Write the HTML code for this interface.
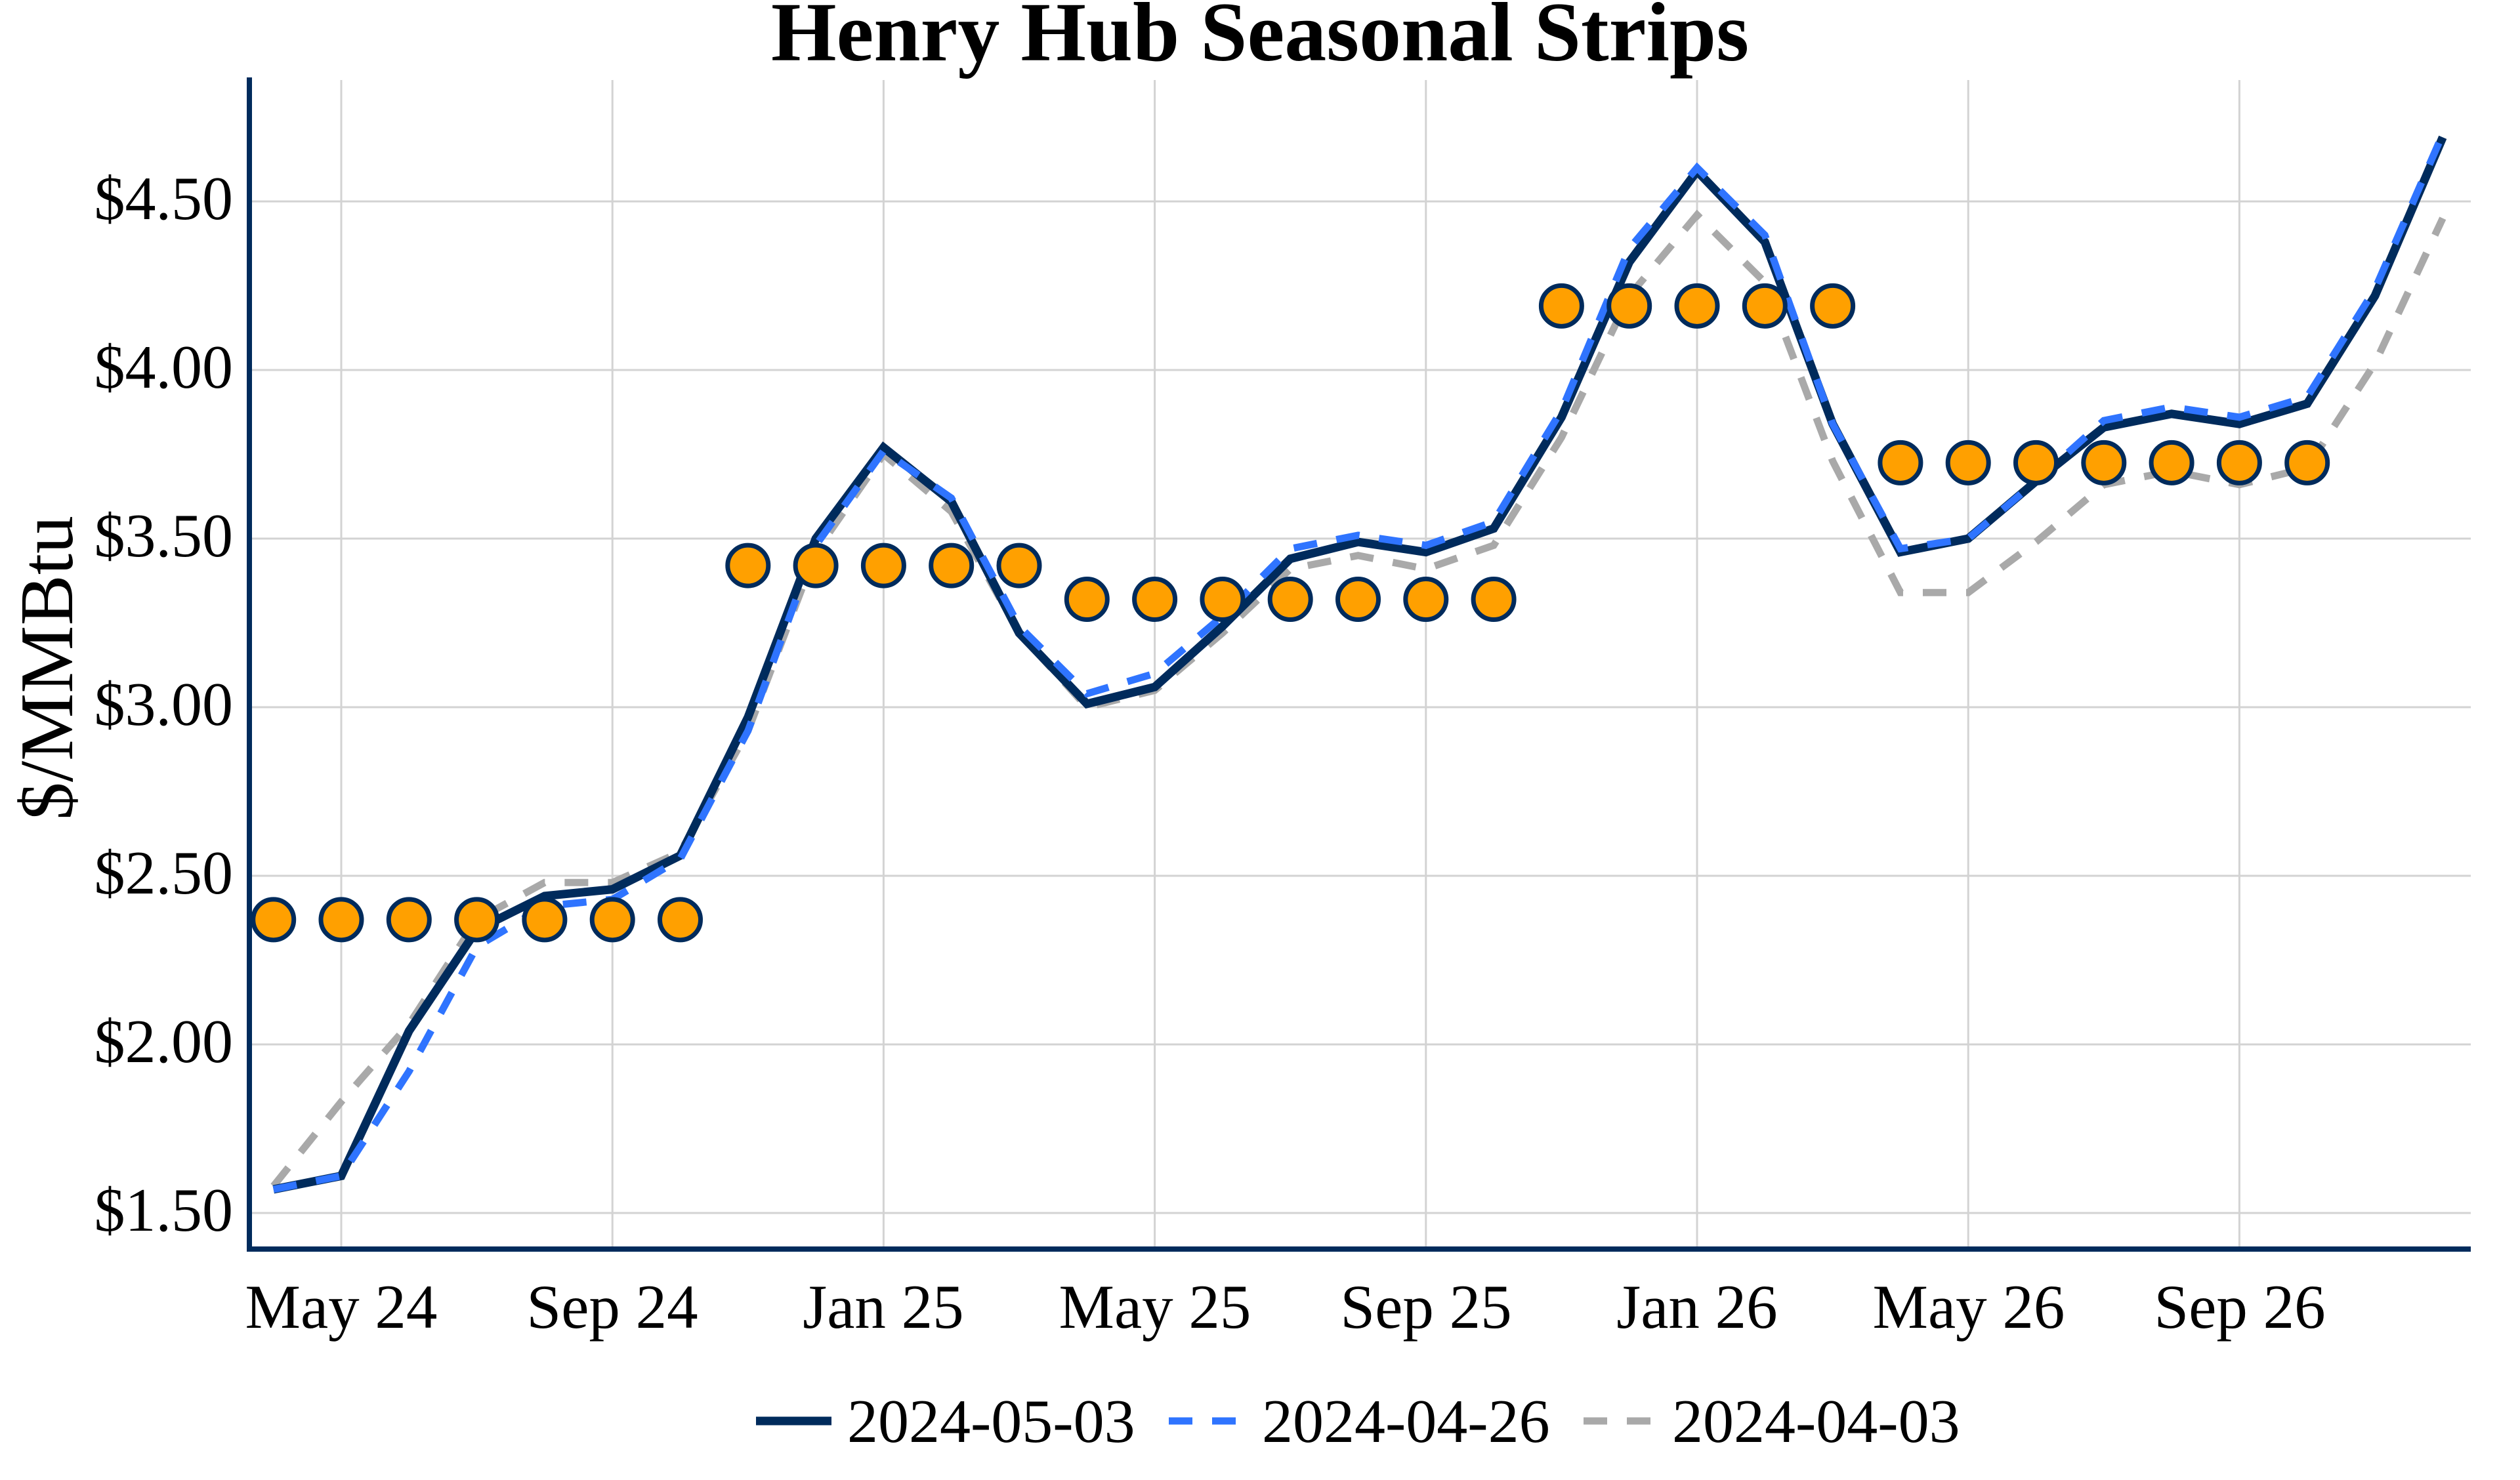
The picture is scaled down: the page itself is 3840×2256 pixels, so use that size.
<!DOCTYPE html>
<html><head><meta charset="utf-8"><style>
html,body{margin:0;padding:0;background:#fff;}
svg{display:block;font-family:"Liberation Serif",serif;}
</style></head><body>
<svg id="s" width="3840" height="2256" viewBox="0 0 3840 2256" xmlns="http://www.w3.org/2000/svg">
<rect width="3840" height="2256" fill="#fff"/>
<g id="grid" stroke="#d3d3d3" stroke-width="3"></g>
<g id="lines" fill="none" stroke-linejoin="miter"></g>
<g id="dots"></g>
<line x1="380" y1="118" x2="380" y2="1908" stroke="#002b5c" stroke-width="8"/>
<line x1="376" y1="1904" x2="3765" y2="1904" stroke="#002b5c" stroke-width="8"/>
<text x="1920" y="92" font-size="128" font-weight="bold" text-anchor="middle">Henry Hub Seasonal Strips</text>
<g font-size="94" text-anchor="end">
<text x="355" y="1876">$1.50</text>
<text x="355" y="1619">$2.00</text>
<text x="355" y="1362">$2.50</text>
<text x="355" y="1105">$3.00</text>
<text x="355" y="848">$3.50</text>
<text x="355" y="591">$4.00</text>
<text x="355" y="334">$4.50</text>
</g>
<g font-size="95" text-anchor="middle">
<text x="520" y="2024">May 24</text>
<text x="933" y="2024">Sep 24</text>
<text x="1346" y="2024">Jan 25</text>
<text x="1760" y="2024">May 25</text>
<text x="2173" y="2024">Sep 25</text>
<text x="2586" y="2024">Jan 26</text>
<text x="3000" y="2024">May 26</text>
<text x="3413" y="2024">Sep 26</text>
</g>
<text transform="translate(110,1018) rotate(-90)" font-size="116" text-anchor="middle">$/MMBtu</text>
<g font-size="94">
<line x1="1152" y1="2166" x2="1267" y2="2166" stroke="#002b5c" stroke-width="13"/>
<text x="1291" y="2198">2024-05-03</text>
<line x1="1781" y1="2166" x2="1899" y2="2166" stroke="#2f74ff" stroke-width="11" stroke-dasharray="36,30"/>
<text x="1923" y="2198">2024-04-26</text>
<line x1="2413" y1="2166" x2="2524" y2="2166" stroke="#a9a9a9" stroke-width="11" stroke-dasharray="36,30"/>
<text x="2548" y="2198">2024-04-03</text>
</g>
</svg>
<script>
(function(){
var NS="http://www.w3.org/2000/svg";
function X(m){return 520+m*103.3;}
function Y(v){return 1849-(v-1.5)*514;}
var g=document.getElementById('grid');
function el(p,tag,a){var e=document.createElementNS(NS,tag);for(var k in a)e.setAttribute(k,a[k]);p.appendChild(e);return e;}
for(var i=0;i<7;i++){var y=Y(1.5+i*0.5);el(g,'line',{x1:384,y1:y,x2:3765,y2:y});}
for(var m=0;m<=28;m+=4){el(g,'line',{x1:X(m),y1:122,x2:X(m),y2:1900});}
var dark=[1.57,1.61,2.04,2.34,2.44,2.46,2.56,2.97,3.50,3.77,3.61,3.22,3.01,3.06,3.24,3.44,3.49,3.46,3.53,3.86,4.32,4.59,4.38,3.84,3.46,3.50,3.67,3.83,3.87,3.84,3.90,4.22,4.69];
var blue=[1.57,1.61,1.92,2.29,2.41,2.43,2.55,2.93,3.48,3.76,3.62,3.24,3.04,3.10,3.27,3.47,3.51,3.48,3.55,3.88,4.36,4.60,4.40,3.84,3.47,3.50,3.67,3.85,3.89,3.86,3.92,4.24,4.70];
var gray=[1.58,1.83,2.06,2.37,2.48,2.48,2.57,2.93,3.46,3.75,3.58,3.22,3.00,3.05,3.22,3.41,3.45,3.41,3.48,3.80,4.22,4.46,4.26,3.73,3.34,3.34,3.49,3.66,3.70,3.66,3.71,4.02,4.45];
function pts(a){return a.map(function(v,i){return X(i-1).toFixed(1)+','+Y(v).toFixed(1);}).join(' ');}
var L=document.getElementById('lines');
el(L,'polyline',{points:pts(gray),stroke:'#a9a9a9','stroke-width':11,'stroke-dasharray':'36,30'});
el(L,'polyline',{points:pts(dark),stroke:'#002b5c','stroke-width':13});
el(L,'polyline',{points:pts(blue),stroke:'#2f74ff','stroke-width':11,'stroke-dasharray':'36,30'});
var D=document.getElementById('dots');
var strips=[[-1,5,2.37],[6,10,3.42],[11,17,3.32],[18,22,4.19],[23,29,3.725]];
strips.forEach(function(s){for(var m=s[0];m<=s[1];m++){el(D,'circle',{cx:X(m),cy:Y(s[2]),r:31,fill:'#ffa000',stroke:'#002b5c','stroke-width':7});}});
})();
</script>
</body></html>
